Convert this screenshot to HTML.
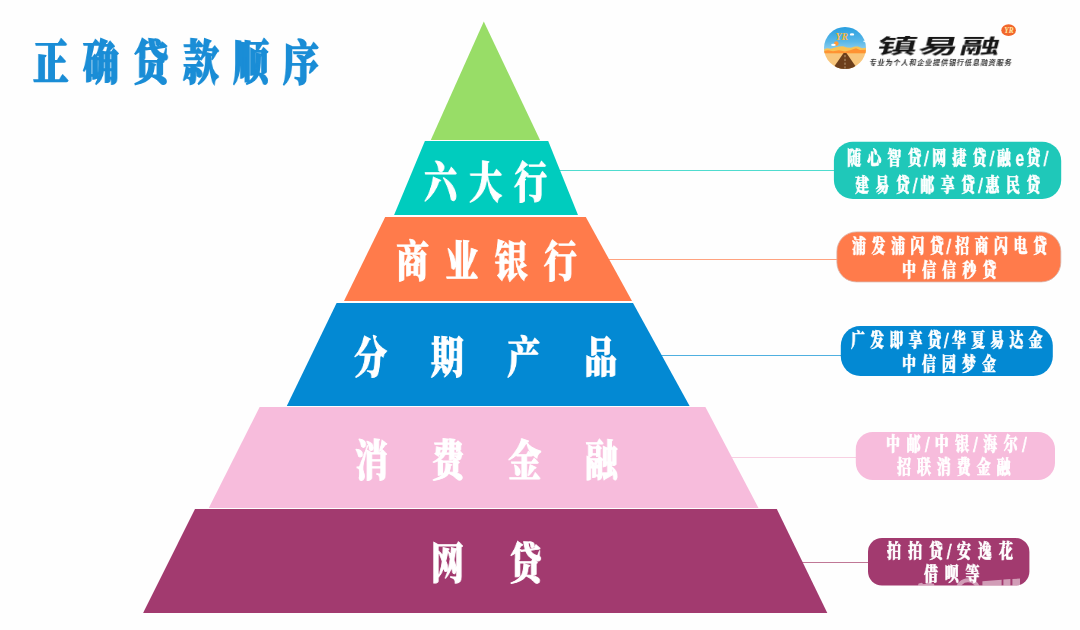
<!DOCTYPE html>
<html lang="zh-CN">
<head>
<meta charset="utf-8">
<title>正确贷款顺序</title>
<style>
html,body{margin:0;padding:0;background:#fefefe;}
body{width:1080px;height:630px;overflow:hidden;position:relative;font-family:"Liberation Sans","Noto Sans CJK SC",sans-serif;}
svg{position:absolute;left:0;top:0;display:block}
.t,.bt{will-change:transform;}
.t{position:absolute;white-space:nowrap;transform-origin:0 0;line-height:1;color:#fff;font-weight:900;font-family:"Liberation Serif","Noto Serif CJK SC",serif;}
.title{left:33px;top:40px;font-size:47px;color:#1a8dd6;letter-spacing:18.8px;transform:scaleX(.76);-webkit-text-stroke:1.6px #1a8dd6;}
.brand{left:875.3px;top:35.6px;font-weight:700;font-family:"Liberation Sans","Noto Sans CJK SC",sans-serif;font-size:20px;color:#161616;letter-spacing:0.75px;transform:skewX(-14deg) scaleX(2);transform-origin:0 100%;}
.tag{left:869px;top:58.8px;font-family:"Liberation Sans","Noto Sans CJK SC",sans-serif;font-size:7px;font-weight:700;color:#333;letter-spacing:0.94px;transform:skewX(-10deg);transform-origin:0 100%;}
.lv{font-size:43.5px;-webkit-text-stroke:0.9px #fff;transform:scaleX(.76);}
.bt{position:absolute;white-space:nowrap;transform-origin:0 0;transform:scaleX(0.72);line-height:1;color:#fff;font-weight:900;font-size:19.4px;font-family:"Liberation Serif","Noto Serif CJK SC",serif;-webkit-text-stroke:0.6px #fff;}
.sl,.la{display:inline-block;letter-spacing:0;text-align:left;vertical-align:top;height:1em;line-height:1;font-family:"Liberation Sans",sans-serif;}
.sl{font-weight:400;-webkit-text-stroke:0.6px #fff;}
.la{font-weight:700;-webkit-text-stroke:0.3px #fff;}
.sl i,.la i{font-style:normal;display:inline-block;transform-origin:0 85%;}
.sl i{transform:translateY(0.6px) scale(1.22,1.08);}
.la i{transform:translateY(0.7px) scale(1.12,1.12);}
</style>
</head>
<body>
<svg width="1080" height="630" viewBox="0 0 1080 630">
  <defs>
    <clipPath id="lc"><circle cx="845" cy="48" r="21"/></clipPath>
    <linearGradient id="sky" x1="0" y1="0" x2="0" y2="1">
      <stop offset="0" stop-color="#259ddf"/>
      <stop offset="0.55" stop-color="#58b7e8"/>
      <stop offset="1" stop-color="#a9daf0"/>
    </linearGradient>
  </defs>
  <g clip-path="url(#lc)">
    <rect x="823" y="26" width="44" height="28" fill="url(#sky)"/>
    <rect x="823" y="52.6" width="44" height="18" fill="#f8c67c"/>
    <polygon points="823,49.6 827,48.3 831,48.8 835,47.6 839,46.4 843,46.3 847,47.6 851,47.8 855,46.5 858,46.6 862,48.3 867,47.6 867,53.2 823,53.2" fill="#f9c355"/>
    <polygon points="823,51.3 828,50.2 833,51.3 839,50.3 845,51.4 851,50 856,48.2 860,50 867,49.6 867,53.2 823,53.2" fill="#ff9232"/>
    <polygon points="843.6,53 846.4,53 858.2,70 831.8,70" fill="#6d3f1b"/>
    <line x1="845" y1="55" x2="845" y2="69" stroke="#dcc6a4" stroke-width="0.7" stroke-dasharray="2.2 1.6"/>
    <circle cx="836.3" cy="43.6" r="2.3" fill="#ff9a3a"/>
    <ellipse cx="833.4" cy="44.9" rx="2.3" ry="1.1" fill="#fff"/>
    <ellipse cx="852" cy="34.4" rx="2.2" ry="1.2" fill="#fff"/>
    <ellipse cx="865.5" cy="41.3" rx="2.2" ry="1" fill="#fff"/>
    <text x="835.5" y="39.8" font-family="'Liberation Serif',serif" font-style="italic" font-weight="700" font-size="11" fill="#f7b93f" textLength="12.5" lengthAdjust="spacingAndGlyphs">YR</text>
  </g>
  <ellipse cx="1008.6" cy="30.2" rx="7.3" ry="5.9" fill="#f2672c"/>
  <text x="1004.2" y="33.4" font-family="'Liberation Serif',serif" font-style="italic" font-weight="700" font-size="8.5" fill="#ffe9a8" textLength="9.4" lengthAdjust="spacingAndGlyphs">YR</text>
  <g shape-rendering="crispEdges">
    <rect x="559" y="170" width="276" height="1" fill="#4fdccf"/>
    <rect x="608" y="259" width="230" height="1" fill="#ffa27f"/>
    <rect x="661" y="355" width="181" height="1" fill="#4fb0e0"/>
    <rect x="731" y="457" width="126" height="1" fill="#f8d0e2"/>
    <rect x="802" y="562" width="67" height="1" fill="#c07896"/>
  </g>
  <polygon points="483.8,21.5 540,140 430.8,140" fill="#98dd67"/>
  <polygon points="424.9,141 548.2,141 578,215 394.1,215" fill="#00ccbe"/>
  <polygon points="385.2,217 585.8,217 632,301 344,301" fill="#ff7b4b"/>
  <polygon points="336.6,303 633,303 689.6,406 286.8,406" fill="#0389d3"/>
  <polygon points="259.6,407 705.4,407 758.5,508 208.8,508" fill="#f7bcdc"/>
  <polygon points="195,509 776.8,509 827.3,613 143.1,613" fill="#a23a6f"/>
  <rect x="833.9" y="141.8" width="227.3" height="57.2" rx="19" fill="#1fc8b9"/>
  <rect x="836.9" y="231.9" width="223.9" height="50" rx="19.5" fill="#ff7b4b" stroke="#d9b3a8" stroke-width="0.8"/>
  <rect x="840.8" y="326.1" width="212" height="49.8" rx="19.5" fill="#0389d3"/>
  <rect x="855.8" y="431.9" width="199.2" height="48.1" rx="17" fill="#f7bcdc"/>
  <rect x="868" y="538" width="161.4" height="47.6" rx="14" fill="#a23a6f"/>
</svg>
<div class="t brand">镇易融</div>
<div class="t tag">专业为个人和企业提供银行低息融资服务</div>
<div class="t title">正确贷款顺序</div>
<div class="t lv" style="left:424px;top:162px;letter-spacing:15.9px">六大行</div>
<div class="t lv" style="left:396px;top:240.5px;letter-spacing:21.4px">商业银行</div>
<div class="t lv" style="left:354px;top:336.5px;letter-spacing:57.4px">分期产品</div>
<div class="t lv" style="left:354.5px;top:439.7px;letter-spacing:57.3px">消费金融</div>
<div class="t lv" style="left:430.5px;top:543px;letter-spacing:59px">网贷</div>
<div class="bt" style="left:847.30px;top:149.40px;letter-spacing:8.66px">随心智贷<span class="sl" style="margin-left:-4.72px;width:10.69px"><i>/</i></span>网捷贷<span class="sl" style="margin-left:-4.72px;width:10.69px"><i>/</i></span>融<span class="la" style="margin-left:-2.64px;width:15.56px"><i>e</i></span>贷<span class="sl" style="margin-left:-4.72px;width:10.69px"><i>/</i></span></div>
<div class="bt" style="left:854.50px;top:175.65px;letter-spacing:8.93px">建易贷<span class="sl" style="margin-left:-5.00px;width:10.69px"><i>/</i></span>邮享贷<span class="sl" style="margin-left:-5.00px;width:10.69px"><i>/</i></span>惠民贷</div>
<div class="bt" style="left:851.90px;top:237.05px;letter-spacing:7.68px">浦发浦闪贷<span class="sl" style="margin-left:-4.03px;width:11.81px"><i>/</i></span>招商闪电贷</div>
<div class="bt" style="left:901.70px;top:261.15px;letter-spacing:8.52px">中信信秒贷</div>
<div class="bt" style="left:851.20px;top:331.40px;letter-spacing:7.20px">广发即享贷<span class="sl" style="margin-left:-3.54px;width:10.69px"><i>/</i></span>华夏易达金</div>
<div class="bt" style="left:901.70px;top:354.90px;letter-spacing:8.38px">中信园梦金</div>
<div class="bt" style="left:885.60px;top:435.10px;letter-spacing:9.21px">中邮<span class="sl" style="margin-left:-3.33px;width:13.61px"><i>/</i></span>中银<span class="sl" style="margin-left:-3.33px;width:13.61px"><i>/</i></span>海尔<span class="sl" style="margin-left:-3.33px;width:13.61px"><i>/</i></span></div>
<div class="bt" style="left:896.70px;top:458.45px;letter-spacing:8.24px">招联消费金融</div>
<div class="bt" style="left:886.70px;top:541.75px;letter-spacing:9.77px">拍拍贷<span class="sl" style="margin-left:-4.44px;width:14.03px"><i>/</i></span>安逸花</div>
<div class="bt" style="left:923.90px;top:564.75px;letter-spacing:9.35px">借呗等</div>
<svg width="1080" height="630" viewBox="0 0 1080 630" style="pointer-events:none">
  <defs><clipPath id="pb"><rect x="868" y="538" width="161.4" height="47.6" rx="14"/></clipPath></defs>
  <g clip-path="url(#pb)" fill="#fff" fill-opacity="0.5" stroke="none">
    <path d="M917.8 586 L918.6 583.4 L922 582.8 L923 584 L926 584 L927 582.6 L931 582.6 L932 583.6 L934 583.8 L934.5 586 Z"/>
    <path d="M955.7 590.5 A12.3 12.3 0 0 1 980.3 590.5 L976.3 590.5 A8.3 8.3 0 0 0 959.7 590.5 Z"/>
    <polygon points="982.4,581.2 1001.6,579.8 1001.6,586 982.4,586"/>
    <polygon points="1003.4,579.6 1010.4,579.1 1010.4,586 1003.4,586"/>
    <polygon points="1012.4,579 1020,578.6 1020,586 1012.4,586"/>
  </g>
</svg>
</body>
</html>
